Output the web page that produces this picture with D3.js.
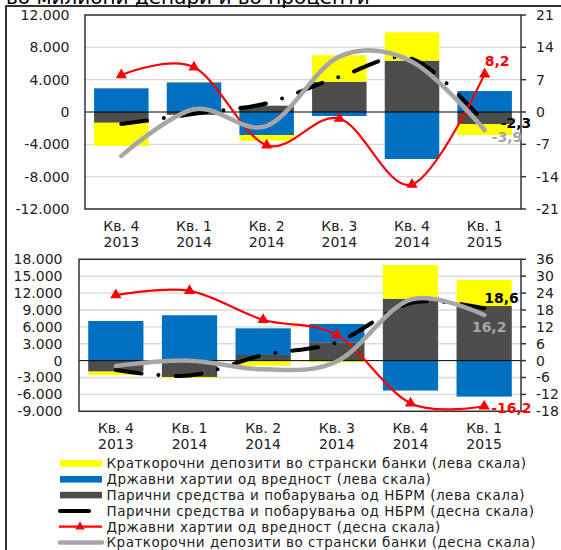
<!DOCTYPE html>
<html>
<head>
<meta charset="utf-8">
<script src="https://cdn.jsdelivr.net/npm/d3@7"></script>
<style>
  body { margin: 0; background: #fff; }
  svg { display: block; font-family: "DejaVu Sans", Verdana, sans-serif; }
</style>
</head>
<body>
<div id="chart"></div>
<script>
const width = 561, height = 550;

// categories
const quarters = ["Кв. 4", "Кв. 1", "Кв. 2", "Кв. 3", "Кв. 4", "Кв. 1"];
const years = ["2013", "2014", "2014", "2014", "2014", "2015"];

// upper panel, left scale (millions of denars)
const topNbrm = [-1330, -350, 780, 3750, 6350, -1490];
const topSec = [2930, 3680, -2850, -500, -5820, 2600];
const topDep = [-2870, 60, -700, 3270, 3510, -1360];
// upper panel, right scale (%)
const topNbrmPct = [-2.6, -0.4, 1.9, 7.6, 11.5, -2.3];
const topSecPct = [8.0, 9.7, -7.2, -1.4, -15.7, 8.2];
const topDepPct = [-9.5, 0.6, -3.0, 12.0, 10.9, -3.9];

// lower panel, left scale
const botNbrm = [-1950, -2900, 1000, 3270, 11000, 9700];
const botSec = [7050, 8060, 4740, 3250, -5320, -6390];
const botDep = [-590, -170, -890, -290, 5980, 4620];
// lower panel, right scale
const botNbrmPct = [-3.3, -5.3, 2.0, 6.5, 20.5, 18.6];
const botSecPct = [23.3, 24.8, 14.5, 9.1, -15.1, -16.2];
const botDepPct = [-1.9, 0.0, -3.1, -0.3, 21.7, 16.2];

// tick values
const topLeftTicks = [-12000, -8000, -4000, 0, 4000, 8000, 12000];
const topRightTicks = [-21, -14, -7, 0, 7, 14, 21];
const botLeftTicks = [-9000, -6000, -3000, 0, 3000, 6000, 9000, 12000, 15000, 18000];
const botRightTicks = [-18, -12, -6, 0, 6, 12, 18, 24, 30, 36];

const legendItems = [
  "Краткорочни депозити во странски банки (лева скала)",
  "Државни хартии од вредност (лева скала)",
  "Парични средства и побарувања од НБРМ (лева скала)",
  "Парични средства и побарувања од НБРМ (десна скала)",
  "Државни хартии од вредност (десна скала)",
  "Краткорочни депозити во странски банки (десна скала)"
];

const cYellow = "#ffff00", cBlue = "#0070c0", cDark = "#4d4d4d",
      cRed = "#ff0000", cGray = "#a6a6a6", cBlack = "#000";

const loc = d3.formatLocale({decimal: ",", thousands: ".", grouping: [3], currency: ["", ""], minus: "-"});
const fmtLeft = loc.format(",d");
const fmtPct = loc.format(".1f");

const svg = d3.select("#chart").append("svg")
  .attr("width", width)
  .attr("height", height);

// outer frame and cut-off title
svg.append("text")
  .attr("x", 6).attr("y", 3.5)
  .style("font-size", "20px")
  .attr("fill", "#000")
  .text("во милиони денари и во проценти");
svg.append("rect")
  .attr("x", 6).attr("y", 6)
  .attr("width", 560).attr("height", 560)
  .attr("fill", "none")
  .attr("stroke", "#000")
  .attr("stroke-width", 1.6);

function panel(cfg) {
  const g = svg.append("g");
  const x = d3.scaleBand().domain(d3.range(6))
    .range([cfg.left, cfg.right]).paddingInner(0.25).paddingOuter(0.125);
  const yL = d3.scaleLinear().domain(cfg.leftDomain).range([cfg.bottom, cfg.top]);
  const yR = d3.scaleLinear().domain(cfg.rightDomain).range([cfg.bottom, cfg.top]);
  const cx = i => x(i) + x.bandwidth() / 2;

  // gridlines
  g.append("g").selectAll("line").data(cfg.leftTicks.filter(d => d !== 0))
    .enter().append("line")
    .attr("x1", cfg.left).attr("x2", cfg.right)
    .attr("y1", d => yL(d)).attr("y2", d => yL(d))
    .attr("stroke", "#d9d9d9").attr("stroke-width", 1.4);

  // stacked bars
  const rows = d3.range(6).map(i => ({nbrm: cfg.nbrm[i], sec: cfg.sec[i], dep: cfg.dep[i]}));
  const series = d3.stack().keys(["nbrm", "sec", "dep"]).offset(d3.stackOffsetDiverging)(rows);
  const colors = {nbrm: cDark, sec: cBlue, dep: cYellow};
  g.append("g").selectAll("g").data(series).enter().append("g")
    .attr("fill", d => colors[d.key])
    .selectAll("rect").data(d => d).enter().append("rect")
    .attr("x", (d, i) => x(i))
    .attr("width", x.bandwidth())
    .attr("y", d => yL(Math.max(d[0], d[1])))
    .attr("height", d => Math.abs(yL(d[0]) - yL(d[1])));

  // zero line
  g.append("line")
    .attr("x1", cfg.left).attr("x2", cfg.right)
    .attr("y1", yL(0)).attr("y2", yL(0))
    .attr("stroke", "#000").attr("stroke-width", 1);

  // plot frame
  g.append("rect")
    .attr("x", cfg.left).attr("y", cfg.top)
    .attr("width", cfg.right - cfg.left).attr("height", cfg.bottom - cfg.top)
    .attr("fill", "none").attr("stroke", "#333").attr("stroke-width", 1.5);

  const line = d3.line()
    .x((d, i) => cx(i))
    .y(d => yR(d))
    .curve(d3.curveCardinal.tension(0));

  g.append("path").datum(cfg.nbrmPct)
    .attr("d", line)
    .attr("fill", "none").attr("stroke", cBlack)
    .attr("stroke-width", 4).attr("stroke-linecap", "round")
    .attr("stroke-dasharray", "26,17,0,17");

  g.append("path").datum(cfg.secPct)
    .attr("d", line)
    .attr("fill", "none").attr("stroke", cRed).attr("stroke-width", 2.2);
  g.append("g").selectAll("path").data(cfg.secPct).enter().append("path")
    .attr("d", d3.symbol(d3.symbolTriangle, 55))
    .attr("transform", (d, i) => `translate(${cx(i)},${yR(d)})`)
    .attr("fill", cRed);

  g.append("path").datum(cfg.depPct)
    .attr("d", line)
    .attr("fill", "none").attr("stroke", cGray)
    .attr("stroke-width", 4.5).attr("stroke-linecap", "round");

  // left axis labels
  g.append("g").selectAll("text").data(cfg.leftTicks).enter().append("text")
    .attr("x", cfg.leftLabelX).attr("y", d => yL(d)).attr("dy", "0.35em")
    .attr("text-anchor", "end")
    .style("font-size", "14px").attr("fill", "#222")
    .text(d => fmtLeft(d));

  // right axis ticks and labels
  g.append("g").selectAll("line").data(cfg.rightTicks).enter().append("line")
    .attr("x1", cfg.right).attr("x2", cfg.right + 5)
    .attr("y1", d => yR(d)).attr("y2", d => yR(d))
    .attr("stroke", "#333").attr("stroke-width", 1.5);
  g.append("g").selectAll("text").data(cfg.rightTicks).enter().append("text")
    .attr("x", 536).attr("y", d => yR(d)).attr("dy", "0.35em")
    .style("font-size", "14px").attr("fill", "#222")
    .text(d => d3.format("d")(d).replace("−", "-"));

  // category labels
  const cat = g.append("g").selectAll("text").data(d3.range(6)).enter().append("text")
    .attr("text-anchor", "middle")
    .style("font-size", "14px").attr("fill", "#222");
  cat.append("tspan").attr("x", cx).attr("y", cfg.catY).text(i => quarters[i]);
  cat.append("tspan").attr("x", cx).attr("y", cfg.catY + 15.5).text(i => years[i]);

  // data labels for the last quarter
  cfg.labels.forEach(l => {
    g.append("text")
      .attr("x", cx(5) + l.dx).attr("y", yR(l.value) + l.dy)
      .attr("text-anchor", l.anchor || "start")
      .style("font-size", "14px").style("font-weight", "bold")
      .attr("fill", l.color)
      .text(fmtPct(l.value));
  });
}

panel({
  left: 85, right: 521, top: 15, bottom: 209,
  leftDomain: [-12000, 12000], rightDomain: [-21, 21],
  leftTicks: topLeftTicks, rightTicks: topRightTicks,
  leftLabelX: 69.5, catY: 231,
  nbrm: topNbrm, sec: topSec, dep: topDep,
  nbrmPct: topNbrmPct, secPct: topSecPct, depPct: topDepPct,
  labels: [
    {value: topSecPct[5], color: cRed, dx: 0, dy: -8},
    {value: topDepPct[5], color: cGray, dx: 7, dy: 12},
    {value: topNbrmPct[5], color: cBlack, dx: 16, dy: 5.5}
  ]
});

panel({
  left: 79, right: 521, top: 259.3, bottom: 411.3,
  leftDomain: [-9000, 18000], rightDomain: [-18, 36],
  leftTicks: botLeftTicks, rightTicks: botRightTicks,
  leftLabelX: 62.5, catY: 433.3,
  nbrm: botNbrm, sec: botSec, dep: botDep,
  nbrmPct: botNbrmPct, secPct: botSecPct, depPct: botDepPct,
  labels: [
    {value: botNbrmPct[5], color: cBlack, dx: 0, dy: -5},
    {value: botDepPct[5], color: "#a6a6a6", dx: 5, dy: 17, anchor: "middle"},
    {value: botSecPct[5], color: cRed, dx: 7, dy: 7}
  ]
});

// legend
const leg = svg.append("g");
const rowY = i => 463.5 + i * 15.8;
legendItems.forEach((t, i) => {
  const y = rowY(i);
  if (i < 3) {
    leg.append("rect").attr("x", 60).attr("y", y - 3.3)
      .attr("width", 42).attr("height", 6.6)
      .attr("fill", [cYellow, cBlue, cDark][i]);
  } else if (i === 3) {
    leg.append("line").attr("x1", 60).attr("x2", 89).attr("y1", y).attr("y2", y)
      .attr("stroke", cBlack).attr("stroke-width", 4).attr("stroke-linecap", "round");
  } else if (i === 4) {
    leg.append("line").attr("x1", 59).attr("x2", 102).attr("y1", y).attr("y2", y)
      .attr("stroke", cRed).attr("stroke-width", 2.2);
    leg.append("path").attr("d", d3.symbol(d3.symbolTriangle, 40))
      .attr("transform", `translate(80,${y})`).attr("fill", cRed);
  } else {
    leg.append("line").attr("x1", 60).attr("x2", 102).attr("y1", y).attr("y2", y)
      .attr("stroke", cGray).attr("stroke-width", 4.5).attr("stroke-linecap", "round");
  }
  leg.append("text")
    .attr("x", 106.5).attr("y", y).attr("dy", "0.36em")
    .style("font-size", "13.5px").style("letter-spacing", "0.5px").attr("fill", "#222")
    .text(t);
});
</script>
</body>
</html>
